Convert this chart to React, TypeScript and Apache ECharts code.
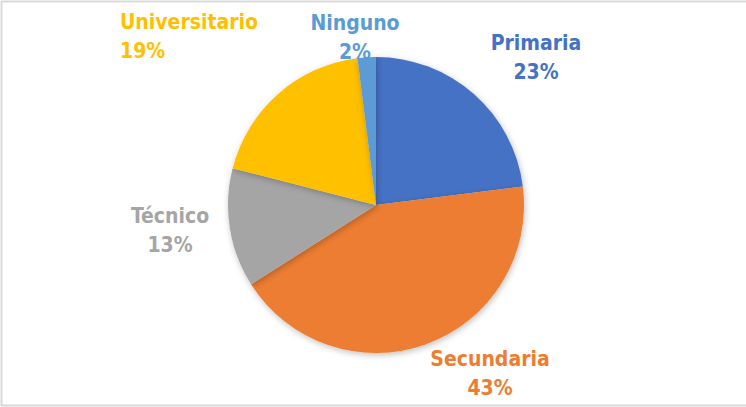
import React, { useEffect, useRef } from "react";
import * as echarts from "echarts";

const categories = ["Primaria", "Secundaria", "Técnico", "Universitario", "Ninguno"];
const values = [23, 43, 13, 19, 2];
const colors = ["#4472C4", "#ED7D31", "#A5A5A5", "#FFC000", "#5B9BD5"];
// label anchor positions (layout only)
const labelPos: [number, number, string][] = [
  [536, 57, "center"],
  [490, 373, "center"],
  [170, 230, "center"],
  [120, 36, "left"],
  [355, 37, "center"],
];

export default function App() {
  const ref = useRef<HTMLDivElement>(null);
  useEffect(() => {
    if (!ref.current) return;
    const chart = echarts.init(ref.current, null, { renderer: "svg" });
    chart.setOption({
      animation: false,
      backgroundColor: "#ffffff",
      graphic: [
        {
          type: "rect",
          shape: { x: 1.5, y: 1.5, width: 800, height: 404 },
          style: { fill: "none", stroke: "#d9d9d9", lineWidth: 2 },
          silent: true,
        },
      ],
      series: [
        {
          type: "pie",
          center: [376, 205],
          radius: 148,
          startAngle: 90,
          clockwise: true,
          data: categories.map((name, i) => ({
            name,
            value: values[i],
            itemStyle: { color: colors[i] },
            label: { color: colors[i] },
          })),
          itemStyle: {
            shadowBlur: 6,
            shadowColor: "rgba(0,0,0,0.25)",
            shadowOffsetX: 1,
            shadowOffsetY: 2,
          },
          label: {
            show: true,
            position: "outside",
            formatter: (p: any) => `${p.name}\n${p.value}%`,
            fontFamily: "DejaVu Sans Condensed",
            fontSize: 21,
            lineHeight: 29,
            fontWeight: "bold",
          },
          labelLine: { show: false },
          labelLayout: (params: any) => {
            const pos = labelPos[params.dataIndex];
            return { x: pos[0], y: pos[1], align: pos[2], verticalAlign: "middle" };
          },
        },
      ],
    });
    return () => chart.dispose();
  }, []);
  return (
    <div
      ref={ref}
      style={{ position: "fixed", left: 0, top: 0, width: 746, height: 407 }}
    />
  );
}
